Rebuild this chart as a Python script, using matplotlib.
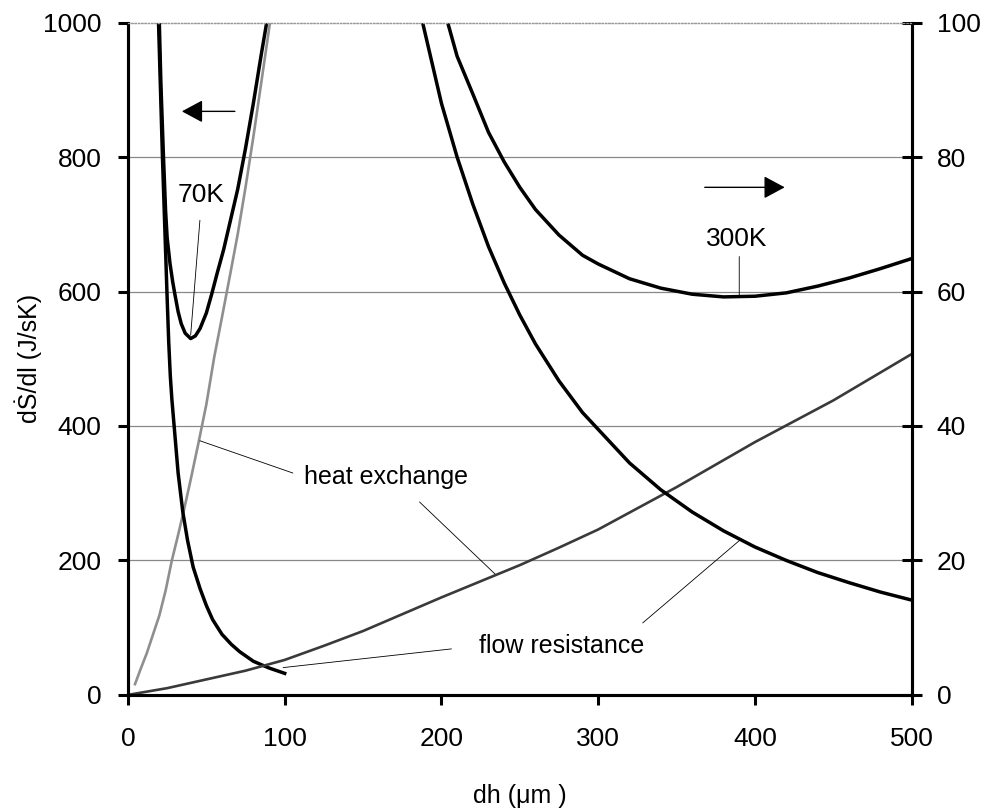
import matplotlib
matplotlib.use("Agg")
import matplotlib.pyplot as plt

plt.rcParams['font.family'] = ['Liberation Sans', 'DejaVu Sans']

# 70K curves (left axis, J/sK)
flow70_x = [19.5, 21, 22, 23, 24, 25, 26, 27, 28, 30, 32, 35, 38, 41.6, 46, 50, 54, 60, 66, 71.4, 80, 90, 100]
flow70_y = [1000, 880, 800, 730, 660, 590, 525, 475, 440, 385, 330, 272, 230, 190, 158, 133, 112, 90, 75, 64, 50, 40, 32]

heat70_x = [4.5, 8, 12, 16, 20, 24, 28, 32, 36, 40, 45, 50, 55, 60, 65, 70, 75, 80, 85, 90.6]
heat70_y = [16, 38, 62, 90, 118, 155, 200, 238, 278, 320, 375, 432, 502, 562, 623, 685, 755, 830, 910, 1000]

total70_x = [20, 21, 22.5, 24, 25, 26.8, 28.5, 30, 32, 34, 36.5, 40, 43, 46, 50, 53.4, 57, 61, 65, 70, 75, 80, 85, 88.5]
total70_y = [1000, 910, 810, 720, 680, 642, 615, 595, 570, 552, 538, 530, 534, 545, 568, 596, 628, 662, 702, 752, 813, 880, 952, 1000]

# 300K curves (right axis)
flow300_x = [188, 195, 200, 210, 220, 230, 240, 250, 260, 275, 290, 300, 320, 340, 360, 380, 400, 420, 440, 460, 480, 500]
flow300_y = [100, 93, 88, 80, 73, 66.7, 61.3, 56.5, 52.2, 46.7, 42, 39.5, 34.5, 30.5, 27.2, 24.4, 22, 20, 18.2, 16.7, 15.3, 14.1]

heat300_x = [0, 25, 50, 75, 100, 125, 150, 175, 200, 225, 250, 275, 300, 350, 400, 450, 500]
heat300_y = [0, 1.0, 2.3, 3.6, 5.2, 7.3, 9.5, 12.0, 14.5, 16.9, 19.3, 21.9, 24.6, 30.9, 37.6, 43.8, 50.7]

total300_x = [204, 210, 220, 230, 240, 250, 260, 275, 290, 300, 320, 340, 360, 380, 400, 420, 440, 460, 480, 500]
total300_y = [100, 95, 89.4, 83.7, 79.3, 75.5, 72.2, 68.4, 65.4, 64.1, 61.9, 60.5, 59.6, 59.2, 59.3, 59.8, 60.8, 62.0, 63.4, 64.9]

fig = plt.figure(figsize=(9.92, 8.08), dpi=100)
ax = fig.add_axes([0.129, 0.14, 0.79, 0.832])
ax2 = ax.twinx()

ax.set_xlim(0, 500)
ax.set_ylim(0, 1000)
ax2.set_ylim(0, 100)
ax.set_xticks([0, 100, 200, 300, 400, 500])
ax.set_yticks([0, 200, 400, 600, 800, 1000])
ax2.set_yticks([0, 20, 40, 60, 80, 100])

for y in [200, 400, 600, 800]:
    ax.axhline(y, color='#888888', lw=0.9, zorder=0)

for a in (ax, ax2):
    for s in ('left', 'right', 'bottom'):
        a.spines[s].set_linewidth(2.2)
    a.spines['top'].set_linestyle(':')
    a.spines['top'].set_color('#999999')
    a.spines['top'].set_linewidth(0.9)

ax.tick_params(axis='x', direction='out', length=7, width=2.2, labelsize=19, pad=16)
ax.tick_params(axis='y', direction='out', length=7, width=2.2, labelsize=19, pad=12)
ax2.tick_params(axis='y', direction='inout', length=14, width=2.2, labelsize=19, pad=11)

# 70K
ax.plot(heat70_x, heat70_y, color='#8f8f8f', lw=1.9)
ax.plot(flow70_x, flow70_y, color='black', lw=2.5)
ax.plot(total70_x, total70_y, color='black', lw=2.5)

# 300K
ax2.plot(heat300_x, heat300_y, color='#3a3a3a', lw=1.9)
ax2.plot(flow300_x, flow300_y, color='black', lw=2.5)
ax2.plot(total300_x, total300_y, color='black', lw=2.5)

ax.set_xlabel('dh (μm )', fontsize=18)
ax.xaxis.set_label_coords(0.5, -0.132)
ax.set_ylabel('dṠ/dl (J/sK)', fontsize=18)
ax.yaxis.set_label_coords(-0.11, 0.5)

leader = dict(arrowstyle='-', color='black', lw=0.6, shrinkA=0, shrinkB=0)
head = dict(arrowstyle='-|>,head_length=13,head_width=7', mutation_scale=1,
            color='black', lw=1.0, shrinkA=0, shrinkB=0)

# 70K labels
ax.text(46.6, 743, '70K', fontsize=19, ha='center', va='center')
ax.annotate('', xy=(40, 535), xytext=(45.9, 706), arrowprops=leader)
ax.annotate('', xy=(34.4, 868), xytext=(68.2, 868), arrowprops=head)

# 300K labels
ax2.text(388.4, 67.8, '300K', fontsize=19, ha='center', va='center')
ax2.annotate('', xy=(390, 59.1), xytext=(390, 65.2), arrowprops=leader)
ax2.annotate('', xy=(419, 75.5), xytext=(368, 75.5), arrowprops=head)

# heat exchange
ax.text(164.9, 324, 'heat exchange', fontsize=18, ha='center', va='center')
ax.annotate('', xy=(45.9, 378), xytext=(105.2, 330), arrowprops=leader)
ax.annotate('', xy=(235, 178), xytext=(186, 287), arrowprops=leader)

# flow resistance
ax.text(276.5, 72.8, 'flow resistance', fontsize=18, ha='center', va='center')
ax.annotate('', xy=(99, 40.6), xytext=(206.4, 68.4), arrowprops=leader)
ax.annotate('', xy=(390.3, 230), xytext=(328.4, 107), arrowprops=leader)

fig.savefig('out.png', dpi=100)
